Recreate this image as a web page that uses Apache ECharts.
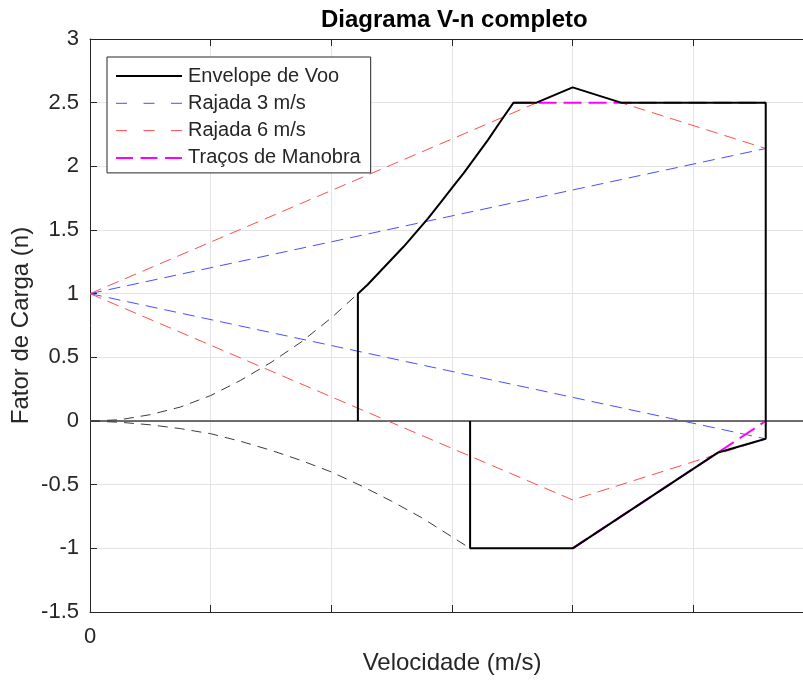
<!DOCTYPE html>
<html>
<head>
<meta charset="utf-8">
<script src="https://cdn.jsdelivr.net/npm/echarts@6/dist/echarts.min.js"></script>
<style>html,body{margin:0;padding:0;background:#fff;overflow:hidden;width:803px;height:681px;}#c{width:814px;height:681px;}</style>
</head>
<body>
<div id="c"></div>
<script>
// ---- data ----
const yTicks = [-1.5, -1, -0.5, 0, 0.5, 1, 1.5, 2, 2.5, 3];
const xTickLabels = ['0'];

const vStallPos = [0, 2.5, 5, 7.5, 10, 12.5, 15, 17.5, 20, 22.2];
const nStallPos = [0, 0.01, 0.05, 0.11, 0.2, 0.32, 0.46, 0.62, 0.81, 1.0];
const vStallNeg = [0, 2.5, 5, 7.5, 10, 12.5, 15, 17.5, 20, 22.5, 25, 27.5, 30, 31.5];
const nStallNeg = [0, -0.01, -0.03, -0.06, -0.1, -0.16, -0.23, -0.31, -0.4, -0.51, -0.63, -0.76, -0.91, -1.0];

const vEnvelope = [22.2, 22.2, 23, 24, 25, 26, 27, 28, 29, 30, 31, 32, 33, 34, 35.1, 37, 40, 44, 56, 56, 52, 40, 31.5, 31.5];
const nEnvelope = [0, 1.0, 1.07, 1.17, 1.27, 1.37, 1.48, 1.59, 1.71, 1.83, 1.95, 2.08, 2.21, 2.35, 2.5, 2.5, 2.62, 2.5, 2.5, -0.14, -0.25, -1.0, -1.0, 0];

const vGust3 = [0, 56];
const nGust3Up = [1, 2.14];
const nGust3Down = [1, -0.14];

const vGust6 = [0, 40, 56];
const nGust6Up = [1, 2.62, 2.14];
const nGust6Down = [1, -0.62, -0.14];

const vManPos = [35.1, 56];
const nManPos = [2.5, 2.5];
const vManNeg = [40, 56];
const nManNeg = [-1, 0];

const vZero = [0, 60];
const nZero = [0, 0];

// ---- build ----
const pairs = (xs, ys) => xs.map((x, i) => [x, ys[i]]);
const FONT = 'Liberation Sans, Arial, Helvetica, sans-serif';
const AX = '#262626';
const BLUE = '#4d4dff', RED = '#ff4d4d', MAG = '#ff00ff';

function line(name, xs, ys, color, width, type, z) {
  return {
    name: name, type: 'line', data: pairs(xs, ys), symbol: 'none', z: z,
    lineStyle: { color: color, width: width, type: type },
    itemStyle: { color: color },
    emphasis: { disabled: true }, silent: true
  };
}

const chart = echarts.init(document.getElementById('c'), null, { renderer: 'canvas' });
chart.setOption({
  animation: false,
  backgroundColor: '#fff',
  title: {
    text: 'Diagrama V-n completo',
    left: 316, top: 3,
    textStyle: { fontFamily: FONT, fontSize: 24, fontWeight: 'bold', color: '#000' }
  },
  legend: {
    data: [
      { name: 'Envelope de Voo', lineStyle: { color: '#000', width: 2, type: 'solid' } },
      { name: 'Rajada 3 m/s', lineStyle: { color: BLUE, width: 1, type: [11, 16.5] } },
      { name: 'Rajada 6 m/s', lineStyle: { color: RED, width: 1, type: [11, 16.5] } },
      { name: 'Traços de Manobra', lineStyle: { color: MAG, width: 2, type: [17, 7.5] } }
    ],
    orient: 'vertical',
    left: 107, top: 57,
    padding: [9, 10, 5, 8],
    itemWidth: 66, itemHeight: 14, itemGap: 7.3,
    backgroundColor: '#fff',
    borderColor: AX, borderWidth: 1, borderRadius: 0,
    itemStyle: { color: 'rgba(0,0,0,0)', borderColor: 'rgba(0,0,0,0)', borderWidth: 0, opacity: 0 },
    textStyle: { fontFamily: FONT, fontSize: 20, color: AX, lineHeight: 20, padding: [0, 0, 0, 1] },
    selectedMode: false
  },
  grid: { left: 90, top: 39, bottom: 69, right: 0, containLabel: false, outerBoundsMode: 'none' },
  xAxis: [{
    type: 'value', min: 0, max: 60, interval: 10,
    name: 'Velocidade (m/s)', nameLocation: 'middle', nameGap: 39, nameMoveOverlap: false,
    nameTextStyle: { fontFamily: FONT, fontSize: 24, color: AX },
    axisLine: { show: true, onZero: false, lineStyle: { color: AX, width: 1 } },
    axisTick: { show: true, inside: true, length: 7, lineStyle: { color: AX } },
    axisLabel: {
      fontFamily: FONT, fontSize: 22, color: AX, margin: 14,
      formatter: v => (xTickLabels.indexOf(String(v)) >= 0 ? String(v) : '')
    },
    splitLine: { show: true, lineStyle: { color: '#e3e3e3', width: 1 } }
  }, {
    type: 'value', min: 0, max: 60, interval: 10, position: 'top',
    axisLine: { show: true, onZero: false, lineStyle: { color: AX, width: 1 } },
    axisTick: { show: true, inside: true, length: 7, lineStyle: { color: AX } },
    axisLabel: { show: false }, splitLine: { show: false }
  }],
  yAxis: {
    type: 'value', min: yTicks[0], max: yTicks[yTicks.length - 1], interval: 0.5,
    name: 'Fator de Carga (n)', nameLocation: 'middle', nameGap: 57, nameMoveOverlap: false,
    nameTextStyle: { fontFamily: FONT, fontSize: 24, color: AX },
    axisLine: { show: true, onZero: false, lineStyle: { color: AX, width: 1 } },
    axisTick: { show: true, inside: true, length: 7, lineStyle: { color: AX } },
    axisLabel: { fontFamily: FONT, fontSize: 22, color: AX, margin: 11 },
    splitLine: { show: true, lineStyle: { color: '#e3e3e3', width: 1 } }
  },
  series: [
    line('zero', vZero, nZero, '#404040', 1.5, 'solid', 2),
    line('Rajada 3 m/s', vGust3, nGust3Up, BLUE, 1, [12, 7], 3),
    line('Rajada 3 m/s', vGust3, nGust3Down, BLUE, 1, [12, 7], 3),
    line('Rajada 6 m/s', vGust6, nGust6Up, RED, 1, [12, 7], 3),
    line('Rajada 6 m/s', vGust6, nGust6Down, RED, 1, [12, 7], 3),
    line('stallPos', vStallPos, nStallPos, '#3c3c3c', 1, [10, 7], 3),
    line('stallNeg', vStallNeg, nStallNeg, '#3c3c3c', 1, [10, 7], 3),
    line('Traços de Manobra', vManPos, nManPos, MAG, 2, [18, 7], 4),
    line('Traços de Manobra', vManNeg, nManNeg, MAG, 2, [18, 7], 4),
    line('Envelope de Voo', vEnvelope, nEnvelope, '#000000', 2, 'solid', 5)
  ]
});
</script>
</body>
</html>
